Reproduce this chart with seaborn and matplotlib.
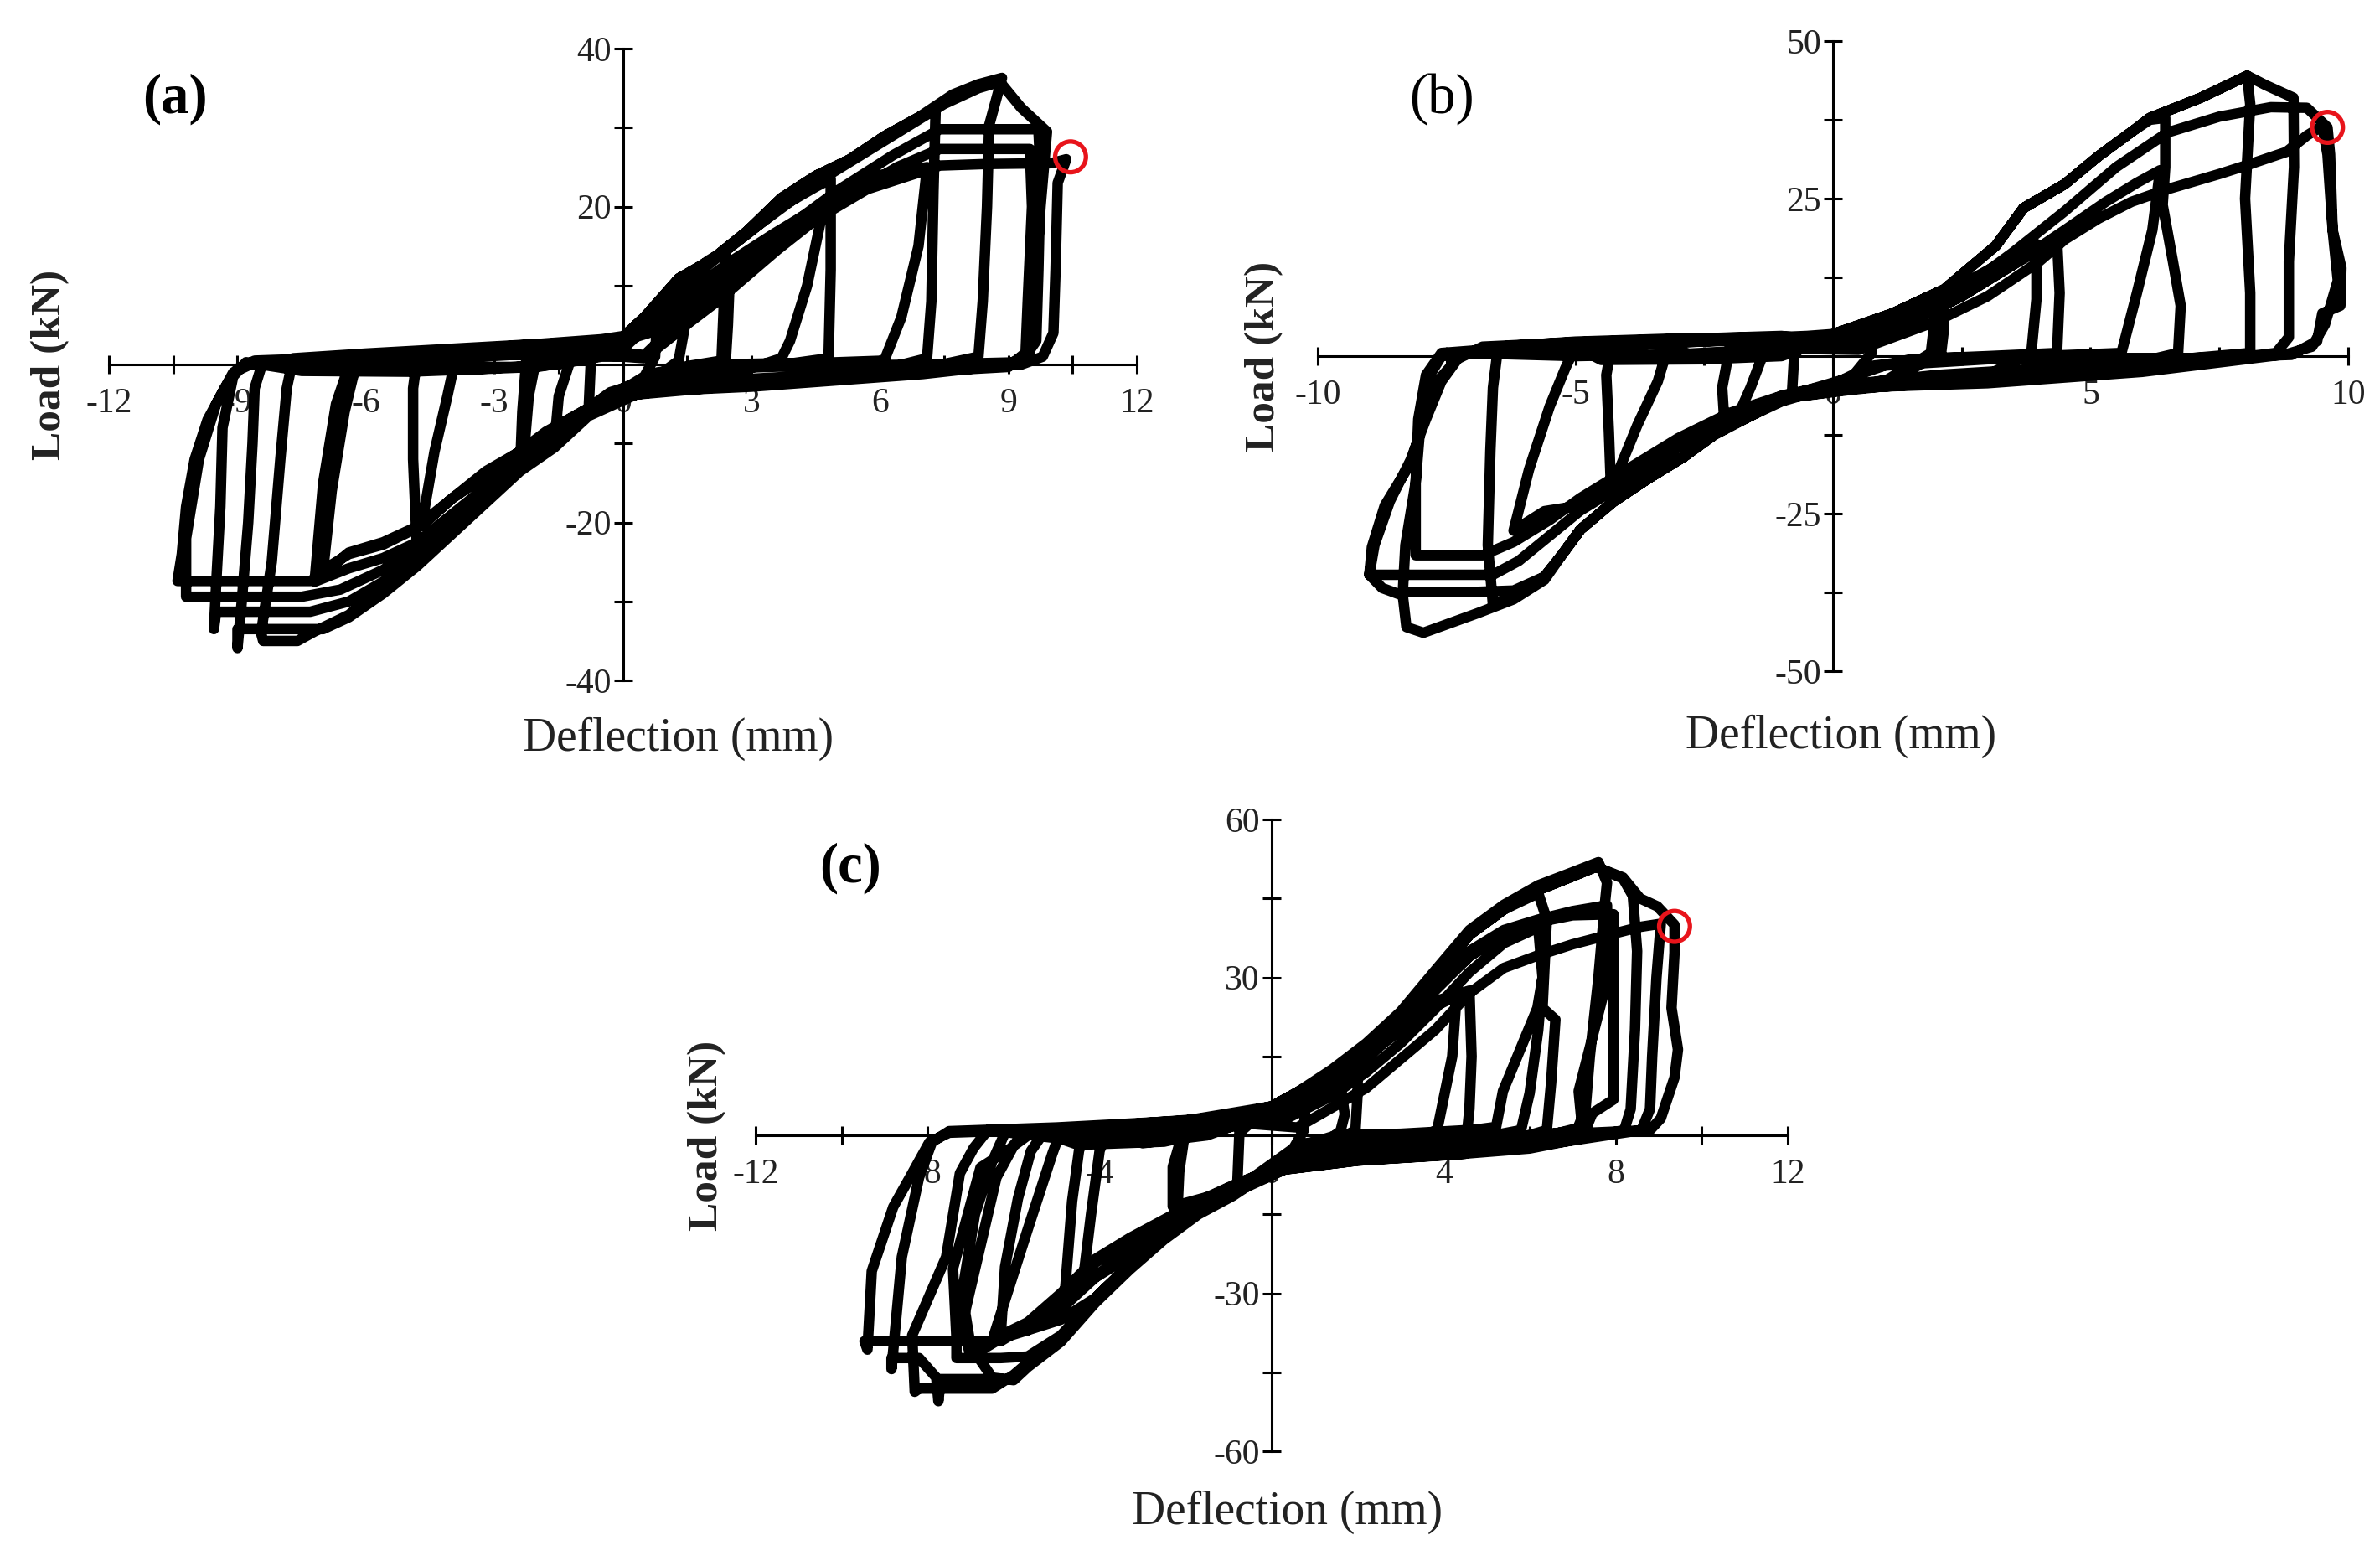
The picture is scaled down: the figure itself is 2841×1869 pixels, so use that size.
import numpy as np
import pandas as pd
import matplotlib
matplotlib.use("Agg")
import matplotlib.pyplot as plt
import seaborn as sns

sns.set_style("ticks")
plt.rcParams['font.family'] = ['Liberation Serif', 'DejaVu Serif']
plt.rcParams['axes.unicode_minus'] = False

# ==============================================================================
# Hysteresis loops: (deflection mm, load kN), cycle by cycle
# ==============================================================================

loop_a = [
    # cycle 1
    (0.0, 2.0), (0.4, 4.0), (0.8, 6.0), (0.75, 1.0), (0.5, -1.5), (0.2, -2.5),
    (-0.2, -3.5), (-0.5, -4.5), (-0.8, -5.5), (-0.75, 0.5), (-0.5, 1.5), (-0.2, 2.5),
    # cycle 2
    (0.0, 3.0), (0.5, 5.5), (1.0, 8.5), (1.5, 10.8), (1.45, 5.0), (1.3, 0.5), (0.8, -1.5), (0.3, -2.5),
    (-0.3, -3.5), (-0.8, -5.5), (-1.3, -8.0), (-1.6, -10.0), (-1.5, -4.0), (-1.2, 1.0), (-0.7, 2.0), (-0.2, 2.8),
    # cycle 3
    (0.0, 3.2), (0.6, 6.5), (1.3, 10.5), (2.0, 13.2), (2.4, 14.5), (2.35, 7.0), (2.3, 0.5), (1.5, -0.2), (0.6, -1.5),
    (0.0, -3.7), (-0.8, -6.2), (-1.6, -10.1), (-2.4, -12.9), (-2.35, -6.0), (-2.25, 1.2), (-1.5, 2.0), (-0.6, 2.8),
    # cycle 4
    (0.0, 3.0), (0.8, 5.0), (1.6, 8.5), (2.2, 11.0), (2.5, 12.0), (2.45, 5.0), (2.4, 0.5), (1.2, -1.8), (0.4, -2.8),
    (-0.4, -4.0), (-1.2, -7.0), (-2.0, -9.5), (-2.3, -10.5), (-2.2, -4.0), (-2.0, 1.5), (-1.0, 2.5),
    # cycle 5
    (0.0, 3.5), (0.5, 6.0), (1.3, 10.5), (2.1, 13.3), (2.9, 16.5), (3.7, 20.0), (4.5, 22.5), (4.85, 23.5),
    (4.85, 12.0), (4.8, 0.8), (4.0, 0.2), (2.0, 0.0), (0.8, -1.0), (0.3, -2.5),
    (-0.8, -6.2), (-1.6, -10.1), (-2.4, -12.9), (-3.2, -17.2), (-4.0, -21.1), (-4.8, -24.5),
    (-4.9, -12.0), (-4.9, -3.0), (-4.8, 1.0), (-4.3, -0.3), (-2.5, -0.3), (-1.0, 0.5), (-0.3, 2.5),
    # cycle 6
    (0.0, 3.5), (0.7, 5.5), (1.5, 9.0), (2.5, 13.0), (3.5, 16.5), (4.2, 18.8), (4.7, 20.3),
    (4.3, 10.0), (3.9, 3.0), (3.7, 0.8), (2.5, -1.3), (1.0, -2.0), (0.3, -2.8),
    (-0.8, -5.5), (-1.8, -8.5), (-2.9, -13.0), (-4.0, -17.0), (-4.7, -20.4),
    (-4.4, -11.0), (-4.1, -4.0), (-3.9, 1.0), (-2.5, 1.8), (-1.0, 2.6),
    # cycle 7
    (0.0, 3.5), (0.5, 6.0), (1.3, 10.9), (2.1, 13.4), (2.9, 16.9), (3.7, 21.1), (4.5, 23.9), (5.3, 26.0),
    (6.1, 28.9), (6.9, 31.3), (7.3, 32.2), (7.25, 22.0), (7.2, 8.0), (7.1, 0.8), (6.0, -0.7), (4.0, -1.9),
    (2.0, -2.7), (0.5, -3.5),
    (-0.8, -5.5), (-1.6, -8.5), (-2.4, -11.0), (-3.2, -13.8), (-4.0, -17.0), (-4.7, -20.4), (-5.6, -22.8),
    (-6.4, -24.0), (-7.0, -26.0), (-6.8, -16.0), (-6.5, -6.0), (-6.3, -1.5), (-6.1, 1.0), (-4.5, 1.6),
    (-2.5, 2.4), (-0.5, 3.0),
    # cycle 8
    (0.0, 3.0), (0.6, 4.0), (1.5, 7.0), (3.0, 13.0), (4.5, 19.5), (6.0, 24.0), (7.1, 25.0),
    (6.9, 15.0), (6.5, 6.0), (6.1, 0.5), (4.5, 0.2), (2.5, 0.0), (1.0, -0.8), (0.5, -2.0),
    (-0.8, -5.8), (-1.6, -9.5), (-2.4, -12.0), (-3.2, -15.5), (-4.0, -19.0), (-4.8, -22.5), (-5.6, -24.5),
    (-6.4, -25.8), (-7.2, -27.5), (-7.0, -15.0), (-6.7, -5.0), (-6.45, -1.0), (-6.3, 1.2), (-5.8, -0.5),
    (-3.5, -0.6), (-1.5, 0.0), (-0.5, 1.5),
    # cycle 9 (peak load)
    (0.0, 3.5), (0.5, 6.0), (1.3, 10.9), (2.1, 13.4), (2.9, 16.9), (3.7, 21.1), (4.5, 23.9), (5.3, 26.0),
    (6.1, 28.9), (6.9, 31.3), (7.7, 34.2), (8.3, 35.5), (8.85, 36.3), (8.55, 30.3), (8.5, 20.0), (8.4, 8.0),
    (8.3, 1.0), (7.0, -0.5), (5.0, -1.2), (3.0, -1.8), (1.0, -2.5), (0.3, -3.2),
    (-0.8, -6.2), (-1.6, -10.1), (-2.4, -12.9), (-3.2, -17.2), (-4.0, -21.1), (-4.8, -25.0), (-5.6, -28.1),
    (-6.4, -31.7), (-7.2, -33.8), (-7.6, -35.0), (-8.4, -35.0), (-8.45, -34.0), (-8.2, -25.0), (-8.0, -12.0),
    (-7.85, -3.0), (-7.7, 0.8), (-6.0, 1.4), (-4.0, 2.0), (-2.0, 2.6), (-0.5, 3.2),
    # cycle 10
    (0.0, 3.6), (0.5, 5.5), (1.5, 10.5), (3.0, 17.0), (4.5, 23.0), (6.0, 28.0), (7.5, 33.0), (8.3, 35.0),
    (8.8, 35.8), (9.3, 32.5), (9.9, 29.5), (9.75, 20.0), (9.6, 8.0), (9.5, 1.5), (9.0, 0.0), (7.0, -1.2),
    (5.0, -2.0), (3.0, -2.8), (1.0, -3.3), (0.3, -3.8),
    (-0.8, -6.5), (-1.6, -10.5), (-2.4, -13.5), (-3.2, -17.5), (-4.0, -21.5), (-4.8, -25.5), (-5.6, -29.0),
    (-6.4, -32.0), (-7.0, -33.5), (-9.0, -33.5), (-9.0, -35.9), (-8.9, -30.0), (-8.75, -20.0), (-8.65, -10.0),
    (-8.6, -3.0), (-8.4, 0.5), (-6.0, 0.5), (-4.0, 0.8), (-2.0, 1.4), (-0.5, 1.8),
    # cycle 11
    (0.5, 1.2), (2.0, 9.0), (3.5, 16.0), (5.0, 22.0), (6.3, 26.5), (7.4, 29.8), (8.6, 29.8), (9.7, 29.8),
    (9.75, 24.0), (9.7, 12.0), (9.65, 3.0), (9.3, 0.3), (7.0, 0.0), (4.0, -0.2), (1.5, -0.6), (0.3, -2.5),
    (-0.8, -6.0), (-1.6, -10.0), (-2.4, -13.0), (-3.2, -17.0), (-4.0, -20.8), (-4.8, -24.5), (-5.6, -27.5),
    (-6.4, -30.0), (-7.3, -31.3), (-9.5, -31.3), (-9.55, -33.5), (-9.5, -28.0), (-9.4, -18.0), (-9.35, -8.0),
    (-9.1, -1.5), (-8.8, 0.3), (-7.5, -0.8), (-5.0, -0.9), (-2.0, -0.3), (-0.5, 1.0),
    # cycle 12
    (0.5, 1.0), (2.2, 8.0), (3.6, 14.5), (5.0, 20.5), (6.4, 25.0), (7.4, 27.3), (9.5, 27.3), (9.55, 20.0),
    (9.45, 8.0), (9.4, 1.5), (9.0, -0.3), (6.0, -1.2), (3.0, -2.5), (0.3, -3.8),
    (-0.8, -5.8), (-1.6, -9.0), (-2.4, -12.0), (-3.2, -15.5), (-4.0, -19.5), (-4.8, -23.0), (-5.6, -26.0),
    (-6.6, -28.5), (-7.5, -29.4), (-10.2, -29.4), (-10.2, -22.0), (-9.9, -12.0), (-9.5, -5.0), (-9.1, -1.0),
    (-8.7, 0.0), (-6.0, 0.5), (-3.0, 1.2), (-0.5, 1.2),
    # cycle 13 (last)
    (0.5, 0.8), (1.3, 4.2), (2.5, 10.2), (3.7, 15.5), (4.7, 19.0), (5.7, 22.2), (6.9, 24.3), (7.4, 25.2),
    (8.5, 25.4), (10.0, 25.5), (10.35, 26.0), (10.15, 23.0), (10.1, 12.0), (10.05, 4.0), (9.8, 1.0),
    (9.3, 0.0), (7.0, -0.8), (5.0, -1.4), (3.0, -2.0), (1.0, -2.6), (0.3, -3.0),
    (-0.8, -5.5), (-1.6, -8.0), (-2.4, -11.0), (-3.2, -13.5), (-4.0, -17.0), (-4.8, -20.5), (-5.6, -22.5),
    (-6.4, -23.8), (-7.0, -26.5), (-7.3, -27.4), (-10.4, -27.4), (-10.3, -24.0), (-10.2, -18.0),
    (-10.0, -12.0), (-9.7, -7.0), (-9.3, -3.0), (-9.0, -0.5), (-8.6, 0.5), (-6.0, 1.0), (-4.0, 1.5),
    (-2.0, 2.0), (-0.5, 2.5),
]

loop_b = [
    # cycle 1
    (0.0, 3.0), (0.4, 4.0), (0.8, 5.5), (0.75, 0.5), (0.4, -3.0), (0.0, -5.0),
    (-0.4, -5.8), (-0.8, -6.5), (-0.75, 0.5), (-0.4, 2.5),
    # cycle 2
    (0.0, 3.0), (0.6, 4.5), (1.2, 6.5), (1.7, 8.0), (2.15, 9.5), (2.15, 4.0), (2.1, 0.5), (1.2, -3.5),
    (0.3, -5.0), (-0.5, -6.0), (-1.0, -7.2), (-1.6, -9.5), (-2.1, -11.5), (-2.15, -5.0), (-2.0, 1.5),
    (-1.0, 2.5),
    # cycle 3
    (0.0, 3.0), (0.6, 4.0), (1.3, 6.0), (2.0, 8.5), (1.95, 4.0), (1.9, 0.5), (1.0, -4.0), (0.3, -5.2),
    (-0.6, -6.0), (-1.3, -8.0), (-1.9, -10.5), (-1.6, -5.0), (-1.3, 1.5), (-0.6, 2.8),
    # cycle 4
    (0.0, 3.2), (0.6, 4.5), (1.2, 6.5), (2.2, 10.0), (3.2, 14.5), (3.95, 17.8), (3.95, 9.0), (3.85, 0.5),
    (3.0, -3.0), (1.5, -4.3), (0.3, -5.3),
    (-0.96, -6.7), (-1.6, -9.5), (-2.3, -12.5), (-2.9, -16.0), (-3.6, -19.5), (-4.3, -23.2), (-4.35, -12.0),
    (-4.4, -3.0), (-4.3, 1.5), (-3.0, 2.2), (-1.5, 2.6), (-0.3, 3.0),
    # cycle 5
    (0.3, 2.5), (1.5, 5.5), (2.5, 9.5), (3.5, 14.5), (4.35, 18.5), (4.4, 10.0), (4.35, 0.5), (3.0, 0.0),
    (1.5, -0.5), (0.5, -2.5), (0.0, -4.5),
    (-0.8, -6.0), (-1.6, -8.0), (-2.3, -10.5), (-2.9, -13.5), (-3.6, -16.5), (-4.2, -19.0), (-3.8, -11.0),
    (-3.4, -4.0), (-3.2, 1.5), (-2.5, -0.5), (-1.0, 0.0), (-0.3, 2.0),
    # cycle 6
    (0.0, 3.2), (1.16, 6.8), (2.16, 10.6), (3.16, 17.5), (3.7, 23.5), (4.5, 27.3), (5.15, 31.7), (5.8, 35.6),
    (6.15, 37.5), (6.45, 37.8), (6.45, 30.0), (6.4, 24.0), (6.6, 15.0), (6.75, 8.0), (6.7, 0.5), (5.0, -2.8),
    (3.0, -4.0), (1.0, -4.8), (0.3, -5.4),
    (-0.96, -6.7), (-1.6, -9.4), (-2.3, -12.4), (-2.9, -16.0), (-3.6, -19.5), (-4.26, -23.1), (-4.9, -27.5),
    (-5.25, -31.4), (-5.6, -35.0), (-6.2, -38.0), (-6.6, -39.5), (-6.7, -30.0), (-6.65, -15.0), (-6.6, -5.0),
    (-6.5, 1.5), (-5.0, 2.3), (-3.0, 2.8), (-1.0, 3.0),
    # cycle 7
    (0.3, 2.0), (1.5, 5.5), (2.5, 9.5), (3.5, 14.5), (4.5, 20.0), (5.3, 24.5), (5.9, 27.5), (6.35, 29.5),
    (6.2, 20.0), (5.9, 10.0), (5.6, 0.5), (4.0, 0.0), (2.0, -0.3), (0.8, -1.5), (0.3, -4.0),
    (-0.96, -6.2), (-2.0, -9.5), (-3.0, -13.5), (-3.6, -16.5), (-4.26, -19.5), (-4.9, -23.7), (-5.6, -24.6),
    (-6.2, -27.7), (-5.9, -18.0), (-5.5, -8.0), (-5.2, -2.0), (-5.0, 1.5), (-4.5, -0.6), (-2.5, -0.5),
    (-1.0, 0.5), (-0.3, 2.5),
    # cycle 8 (peak load)
    (0.0, 3.5), (1.16, 6.8), (2.16, 10.6), (3.16, 17.5), (3.7, 23.5), (4.5, 27.3), (5.15, 31.7), (5.8, 35.6),
    (6.15, 37.8), (7.14, 41.0), (8.04, 44.5), (8.1, 40.0), (8.0, 25.0), (8.1, 10.0), (8.1, 0.5), (6.0, -1.0),
    (4.0, -2.0), (2.0, -3.0), (0.3, -4.5),
    (-0.96, -6.7), (-1.6, -9.4), (-2.3, -12.4), (-2.9, -16.0), (-3.6, -19.5), (-4.26, -23.1), (-4.9, -27.5),
    (-5.25, -31.4), (-5.6, -35.0), (-6.2, -37.2), (-6.9, -37.4), (-8.35, -37.4), (-8.3, -30.0), (-8.1, -20.0),
    (-8.05, -10.0), (-7.9, -3.0), (-7.6, 0.5), (-6.0, 1.5), (-4.0, 2.2), (-2.0, 2.7), (-0.5, 3.2),
    # cycle 9
    (0.0, 3.5), (1.16, 6.8), (2.16, 10.6), (3.16, 17.5), (3.7, 23.5), (4.5, 27.3), (5.15, 31.7), (5.8, 35.6),
    (6.15, 37.8), (7.14, 41.0), (8.04, 44.5), (8.4, 43.0), (8.94, 41.0), (8.95, 30.0), (8.85, 15.0),
    (8.85, 3.0), (8.6, 0.5), (6.0, -2.0), (4.0, -3.3), (2.0, -4.3), (0.3, -5.2),
    (-0.96, -6.7), (-1.6, -9.4), (-2.3, -12.4), (-2.9, -16.0), (-3.6, -19.5), (-4.26, -23.1), (-4.9, -27.5),
    (-5.25, -31.4), (-5.6, -35.5), (-6.2, -38.6), (-6.9, -40.8), (-7.95, -43.9), (-8.28, -43.0),
    (-8.35, -38.0), (-8.75, -36.8), (-9.0, -34.7), (-8.95, -30.3), (-8.7, -23.7), (-8.2, -17.0),
    (-7.95, -10.4), (-7.7, -4.2), (-7.3, -0.5), (-6.8, 1.5), (-5.0, 2.2), (-3.0, 2.7), (-1.0, 3.2),
    # cycle 10
    (0.3, 2.0), (1.5, 6.0), (2.5, 10.5), (3.5, 16.5), (4.5, 23.0), (5.5, 30.0), (6.5, 35.5), (7.5, 38.0),
    (8.5, 39.5), (9.2, 39.4), (9.6, 36.3), (9.65, 32.0), (9.7, 20.0), (9.87, 14.0), (9.85, 8.0), (9.5, 6.8),
    (9.4, 2.4), (8.9, 0.2), (7.0, -0.3), (5.0, -0.3), (3.0, -0.5), (1.0, -1.5), (0.3, -3.5),
    (-0.96, -6.5), (-2.0, -10.0), (-3.0, -14.5), (-4.0, -20.0), (-4.9, -24.5), (-5.5, -28.5), (-6.1, -32.5),
    (-6.6, -34.7), (-9.0, -34.7), (-8.9, -30.0), (-8.6, -23.0), (-8.2, -16.5), (-7.9, -10.0), (-7.6, -4.0),
    (-7.2, 0.5), (-5.0, 0.0), (-3.0, 0.3), (-1.0, 1.2),
    # cycle 11 (last)
    (0.5, 1.0), (2.0, 5.5), (3.0, 9.5), (4.0, 15.0), (4.5, 18.5), (5.15, 21.8), (5.8, 24.5), (6.5, 26.5),
    (7.5, 28.9), (8.0, 30.2), (8.8, 32.4), (9.2, 35.0), (9.5, 36.5), (9.6, 32.0), (9.7, 20.0), (9.8, 12.0),
    (9.55, 5.0), (9.3, 1.5), (8.8, 0.3), (6.0, -2.5), (3.0, -4.3), (0.3, -5.0),
    (-0.96, -6.2), (-2.0, -9.0), (-3.0, -13.0), (-4.0, -18.0), (-4.9, -22.5), (-5.5, -26.0), (-6.2, -29.5),
    (-6.8, -31.6), (-8.1, -31.6), (-8.1, -20.0), (-8.0, -10.0), (-7.9, -4.0), (-7.6, 0.0), (-5.0, 1.5),
    (-2.0, 2.5), (0.0, 3.0),
]

loop_c = [
    # cycle 1
    (0.0, 4.0), (0.4, 5.5), (0.8, 7.5), (0.75, 1.0), (0.4, -4.0), (0.0, -6.5),
    (-0.4, -8.0), (-0.8, -9.5), (-0.75, 0.5), (-0.4, 3.0),
    # cycle 2
    (0.0, 5.0), (0.7, 8.0), (1.4, 11.5), (2.0, 14.0), (2.0, 8.0), (1.95, 1.0), (1.0, -3.5), (0.3, -6.0),
    (-0.5, -9.0), (-0.9, -10.8), (-1.7, -14.0), (-2.2, -16.0), (-2.15, -7.0), (-2.0, 1.5), (-1.0, 3.5),
    # cycle 3
    (0.0, 5.0), (0.8, 6.5), (1.6, 9.5), (1.7, 4.0), (1.6, 0.8), (0.8, -4.0), (0.2, -6.0),
    (-0.6, -8.5), (-1.4, -11.5), (-2.3, -13.5), (-2.3, -6.0), (-2.05, 1.0), (-1.0, 3.0),
    # cycle 4
    (0.0, 5.0), (1.0, 9.0), (2.2, 15.0), (3.0, 20.0), (3.8, 24.5), (4.3, 26.5), (4.2, 15.0), (3.95, 5.0),
    (3.85, 1.0), (2.5, -3.0), (1.0, -4.5), (0.3, -6.0),
    (-0.9, -10.7), (-1.7, -13.9), (-2.5, -18.7), (-3.3, -23.0), (-4.1, -27.0), (-4.8, -29.0), (-4.64, -12.5),
    (-4.48, -2.9), (-4.3, 1.0), (-3.0, 1.8), (-1.5, 3.0),
    # cycle 5
    (0.0, 5.5), (1.0, 9.5), (2.2, 15.5), (3.0, 20.5), (3.8, 25.5), (4.6, 27.5), (4.65, 15.0), (4.6, 5.0),
    (4.55, 1.0), (3.0, 0.3), (1.5, 0.0), (0.5, -2.5),
    (-0.9, -10.7), (-1.7, -13.9), (-2.5, -18.0), (-3.3, -22.0), (-4.4, -28.5), (-4.2, -15.0), (-4.0, -2.9),
    (-3.8, 1.0), (-3.0, -1.5), (-1.5, 0.0), (-0.5, 3.0),
    # cycle 6
    (0.0, 5.5), (1.4, 11.8), (2.2, 16.6), (3.0, 22.4), (3.8, 30.2), (4.6, 38.1), (5.4, 42.9), (6.2, 46.0),
    (6.4, 41.0), (6.3, 24.2), (6.6, 22.0), (6.5, 10.0), (6.4, 1.0), (4.5, -3.5), (2.0, -4.8), (0.3, -6.5),
    (-0.9, -11.0), (-1.7, -14.0), (-2.5, -18.7), (-3.3, -24.6), (-4.1, -30.9), (-4.9, -35.0), (-5.67, -37.0),
    (-6.46, -38.0), (-5.67, -17.8), (-5.1, -3.5), (-4.9, 1.0), (-3.0, 1.8), (-1.0, 3.8),
    # cycle 7
    (0.0, 5.5), (1.4, 11.5), (2.2, 16.0), (3.0, 21.5), (3.8, 28.0), (4.6, 34.0), (5.4, 38.5), (6.34, 41.0),
    (6.3, 30.0), (6.18, 24.2), (5.38, 8.4), (5.22, 1.6), (4.0, 0.3), (2.0, 0.0), (0.8, -1.5), (0.3, -4.5),
    (-0.9, -10.7), (-1.7, -13.9), (-2.5, -18.7), (-3.3, -24.6), (-4.1, -30.9), (-4.9, -38.3), (-5.67, -43.2),
    (-6.0, -45.5), (-6.5, -48.1), (-8.2, -48.1), (-8.3, -48.7), (-8.36, -38.0), (-7.57, -23.1), (-7.25, -7.2),
    (-6.93, -2.4), (-6.6, 1.0), (-4.0, -1.5), (-2.0, -0.5), (-0.8, 2.5),
    # cycle 8 (peak load)
    (0.0, 5.5), (1.4, 11.8), (2.2, 16.6), (3.0, 22.4), (3.8, 30.2), (4.6, 38.1), (5.4, 42.9), (6.2, 46.6),
    (7.0, 49.2), (7.54, 51.0), (8.17, 48.8), (8.4, 45.5), (8.5, 35.0), (8.45, 20.0), (8.35, 5.0), (8.2, 1.0),
    (6.0, -2.5), (4.0, -3.8), (2.0, -4.8), (0.3, -6.5),
    (-0.9, -10.7), (-1.7, -13.9), (-2.5, -18.7), (-3.3, -24.6), (-4.1, -30.9), (-4.9, -38.3), (-5.67, -43.2),
    (-6.0, -46.3), (-7.7, -46.3), (-7.75, -50.5), (-7.8, -46.0), (-8.2, -42.3), (-8.84, -42.3), (-8.84, -44.4),
    (-8.6, -23.1), (-8.2, -8.0), (-7.9, -1.3), (-7.5, 0.8), (-5.0, 1.5), (-2.0, 2.8),
    # cycle 9
    (0.0, 5.5), (1.4, 11.8), (2.2, 16.6), (3.0, 22.4), (3.8, 30.2), (4.6, 38.1), (5.4, 42.9), (6.2, 46.6),
    (7.0, 49.2), (7.54, 51.0), (8.17, 49.0), (8.57, 45.0), (8.97, 43.5), (9.37, 40.0), (9.37, 34.7),
    (9.3, 24.2), (9.45, 16.3), (9.37, 11.0), (9.05, 3.2), (8.8, 1.0), (6.0, 0.0), (4.0, -0.5), (2.0, -1.5),
    (0.3, -4.0),
    (-0.9, -10.7), (-1.7, -13.9), (-2.5, -18.7), (-3.3, -24.6), (-4.1, -30.9), (-4.9, -38.0), (-5.67, -42.0),
    (-6.3, -42.3), (-7.33, -42.3), (-7.33, -38.6), (-7.41, -25.3), (-6.77, -6.1), (-6.06, -2.4), (-5.7, 1.0),
    (-3.5, 2.0), (-1.0, 3.5),
    # cycle 10
    (0.3, 4.5), (1.4, 10.0), (2.2, 15.0), (3.0, 21.0), (3.8, 28.0), (4.6, 35.0), (5.4, 39.0), (6.2, 41.0),
    (7.0, 42.6), (7.8, 43.7), (7.8, 29.5), (7.14, 8.4), (7.22, 1.6), (5.0, -3.0), (2.0, -4.5), (0.3, -6.0),
    (-0.9, -10.0), (-1.7, -13.0), (-2.5, -16.5), (-3.3, -20.0), (-4.1, -24.2), (-4.9, -31.6), (-5.67, -37.0),
    (-6.3, -38.6), (-7.0, -42.0), (-7.2, -36.0), (-6.8, -22.0), (-6.4, -8.0), (-6.0, -2.0), (-5.5, 1.0),
    (-4.5, -1.8), (-2.5, -1.2), (-1.0, 1.5),
    # cycle 11
    (0.3, 4.0), (1.4, 9.5), (2.2, 14.5), (3.0, 20.5), (3.8, 27.5), (4.6, 34.0), (5.4, 38.0), (6.2, 40.5),
    (7.0, 41.8), (7.95, 42.0), (7.95, 25.0), (7.95, 6.8), (7.46, 4.2), (7.3, 1.0), (5.0, -1.0), (2.0, -2.5),
    (0.3, -5.0),
    (-0.9, -10.0), (-1.7, -13.5), (-2.5, -17.5), (-3.3, -22.0), (-4.1, -27.0), (-4.9, -33.0), (-5.67, -36.0),
    (-6.3, -39.1), (-9.47, -39.1), (-9.4, -40.7), (-9.3, -25.8), (-8.8, -13.6), (-8.36, -7.2), (-7.96, -1.3),
    (-7.5, 0.5), (-5.0, 1.2), (-2.0, 2.5), (0.0, 4.0),
    # cycle 12
    (0.3, 3.0), (1.4, 7.5), (2.2, 12.0), (3.0, 17.5), (3.8, 24.0), (4.6, 31.0), (5.4, 36.5), (6.2, 39.5),
    (6.3, 30.0), (6.2, 20.0), (6.0, 8.0), (5.8, 1.0), (4.0, -1.8), (2.0, -3.2), (0.3, -5.0),
    (-0.9, -11.5), (-1.7, -15.0), (-2.5, -19.8), (-3.3, -25.5), (-4.1, -31.8), (-4.9, -39.2), (-5.67, -44.0),
    (-6.0, -46.5), (-6.5, -46.0), (-7.0, -40.0), (-7.2, -30.0), (-6.9, -15.0), (-6.5, -5.0), (-6.2, 0.5),
    (-3.0, 1.5), (-1.0, 3.0),
    # cycle 13
    (0.0, 5.0), (1.4, 12.5), (2.2, 17.5), (3.0, 23.5), (3.8, 31.3), (4.6, 39.0), (5.4, 43.8), (6.2, 47.5),
    (7.0, 50.0), (7.6, 51.9), (7.8, 48.0), (7.75, 44.0), (7.6, 30.0), (7.4, 15.0), (7.3, 5.0), (7.1, 1.0),
    (5.0, -1.5), (2.0, -3.0), (0.3, -5.5),
    (-0.9, -9.5), (-1.7, -12.5), (-2.5, -16.0), (-3.3, -19.5), (-4.1, -23.5), (-4.9, -30.0), (-5.67, -35.5),
    (-6.3, -38.0), (-6.2, -25.0), (-5.9, -12.0), (-5.6, -3.0), (-5.3, 0.5), (-3.0, 0.5), (-1.0, 2.5),
    # cycle 14 (last)
    (0.6, 1.5), (2.2, 9.0), (3.8, 20.0), (4.6, 27.0), (5.4, 31.8), (6.2, 34.2), (7.0, 36.3), (7.8, 38.0),
    (8.57, 39.6), (9.05, 40.2), (8.95, 30.0), (8.85, 15.0), (8.8, 5.0), (8.6, 1.0), (6.0, -2.2), (3.0, -4.0),
    (0.3, -5.5),
]

# failure points marked with a red circle
fail_a = (10.45, 26.3)
fail_b = (9.6, 36.3)
fail_c = (9.37, 39.7)

# ticks
xmaj_a, xmin_a = [-12, -9, -6, -3, 0, 3, 6, 9, 12], [-10.5, -7.5, -4.5, -1.5, 1.5, 4.5, 7.5, 10.5]
ymaj_a, ymin_a = [-40, -20, 20, 40], [-30, -10, 10, 30]
xmaj_b, xmin_b = [-10, -5, 0, 5, 10], [-7.5, -2.5, 2.5, 7.5]
ymaj_b, ymin_b = [-50, -25, 25, 50], [-37.5, -12.5, 12.5, 37.5]
xmaj_c, xmin_c = [-12, -8, -4, 0, 4, 8, 12], [-10, -6, -2, 2, 6, 10]
ymaj_c, ymin_c = [-60, -30, 30, 60], [-45, -15, 15, 45]


def draw_panel(ax, pts, fail, xmaj, xmin, ymaj, ymin, letter, letter_xy, letter_bold, ylab_x, xlab_xy):
    df = pd.DataFrame(pts, columns=['defl', 'load'])
    sns.lineplot(data=df, x='defl', y='load', sort=False, estimator=None, color='black',
                 linewidth=9, ax=ax, zorder=3, solid_joinstyle='round', solid_capstyle='round')
    sns.scatterplot(x=[fail[0]], y=[fail[1]], ax=ax, s=700, facecolor='none', edgecolor='#e8141b',
                    linewidth=3.8, zorder=4)

    ax.set_xlim(xmaj[0], xmaj[-1])
    ax.set_ylim(ymaj[0], ymaj[-1])
    ax.set_xticks(xmaj)
    ax.set_xticks(xmin, minor=True)
    ax.set_yticks(ymaj)
    ax.set_yticks(ymin, minor=True)
    ax.set_xticklabels([str(v) for v in xmaj])
    ax.set_yticklabels([str(v) for v in ymaj])

    for side in ['top', 'right']:
        ax.spines[side].set_visible(False)
    ax.spines['left'].set_position(('data', 0))
    ax.spines['bottom'].set_position(('data', 0))
    for side in ['left', 'bottom']:
        ax.spines[side].set_linewidth(2.2)
        ax.spines[side].set_color('black')

    ax.tick_params(which='both', direction='inout', length=16, width=2.2, color='black',
                   bottom=True, left=True, top=False, right=False)
    ax.tick_params(axis='x', labelsize=30, pad=12, labelcolor='#222222')
    ax.tick_params(axis='y', labelsize=30, pad=2, labelcolor='#222222')
    ax.set_xlabel('')
    ax.set_ylabel('')
    ax.patch.set_alpha(0)

    ax.text(ylab_x, 0.5, 'Load (kN)', transform=ax.transAxes, rotation=90, fontsize=37,
            fontweight='bold', ha='center', va='center', color='#222222')
    ax.text(xlab_xy[0], xlab_xy[1], 'Deflection (mm)', transform=ax.transAxes, fontsize=40,
            ha='center', va='center', color='#222222')
    ax.text(letter_xy[0], letter_xy[1], letter, transform=ax.transAxes, fontsize=48,
            fontweight='bold' if letter_bold else 'normal', ha='center', va='center', color='black')


fig = plt.figure(figsize=(28.41, 18.69), dpi=100)
ax_a = fig.add_axes([0.0458, 0.5655, 0.4319, 0.4034])
ax_b = fig.add_axes([0.5537, 0.5714, 0.4329, 0.4024])
ax_c = fig.add_axes([0.3175, 0.0733, 0.4336, 0.4034])

draw_panel(ax_a, loop_a, fail_a, xmaj_a, xmin_a, ymaj_a, ymin_a, '(a)', (0.064, 0.92), True,
           -0.057, (0.554, -0.093))
draw_panel(ax_b, loop_b, fail_b, xmaj_b, xmin_b, ymaj_b, ymin_b, '(b)', (0.12, 0.908), False,
           -0.052, (0.508, -0.104))
draw_panel(ax_c, loop_c, fail_c, xmaj_c, xmin_c, ymaj_c, ymin_c, '(c)', (0.092, 0.923), True,
           -0.047, (0.515, -0.097))

fig.savefig('out.png', dpi=100, facecolor='white')
